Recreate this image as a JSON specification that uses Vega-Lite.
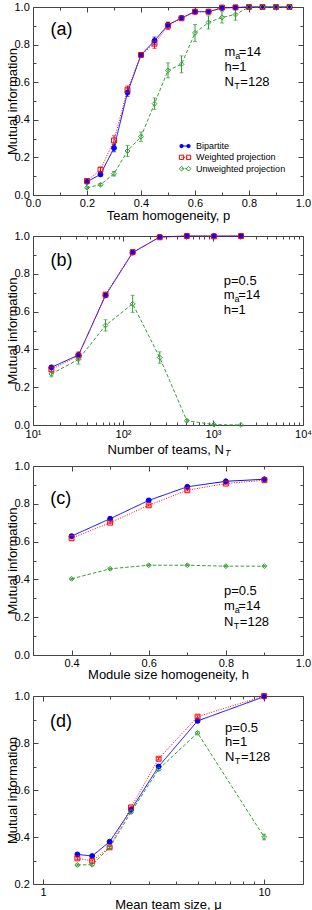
{
  "$schema": "https://vega.github.io/schema/vega-lite/v6.json",
  "padding": {"left": 5, "top": 0, "right": 0, "bottom": 0},
  "bounds": "flush",
  "spacing": 41,
  "config": {
    "font": "Liberation Sans",
    "view": {"stroke": "#444", "strokeWidth": 1},
    "axis": {"domain": false, "grid": false, "tickColor": "#444", "tickWidth": 1, "labelFontSize": 11, "labelColor": "#000", "titleFontSize": 13, "titleFontWeight": "normal", "titleColor": "#000", "labelFlush": false, "labelOverlap": false, "labelBound": false}
  },
  "resolve": {"scale": {"x": "independent", "y": "independent", "color": "independent", "shape": "independent", "fill": "independent", "strokeDash": "independent"}, "axis": {"x": "independent", "y": "independent"}},
  "datasets": {
    "a": [
      {"x": 0.2, "series": "Bipartite", "mi": 0.07, "err": 0.005},
      {"x": 0.25, "series": "Bipartite", "mi": 0.11, "err": 0.012},
      {"x": 0.3, "series": "Bipartite", "mi": 0.25, "err": 0.02},
      {"x": 0.35, "series": "Bipartite", "mi": 0.545, "err": 0.02},
      {"x": 0.4, "series": "Bipartite", "mi": 0.745, "err": 0.01},
      {"x": 0.45, "series": "Bipartite", "mi": 0.82, "err": 0.02},
      {"x": 0.5, "series": "Bipartite", "mi": 0.905, "err": 0.012},
      {"x": 0.55, "series": "Bipartite", "mi": 0.942, "err": 0.005},
      {"x": 0.6, "series": "Bipartite", "mi": 0.975, "err": 0.004},
      {"x": 0.65, "series": "Bipartite", "mi": 0.975, "err": 0.004},
      {"x": 0.7, "series": "Bipartite", "mi": 0.995, "err": 0.003},
      {"x": 0.75, "series": "Bipartite", "mi": 0.997, "err": 0.002},
      {"x": 0.8, "series": "Bipartite", "mi": 1.0, "err": 0},
      {"x": 0.85, "series": "Bipartite", "mi": 1.0, "err": 0},
      {"x": 0.9, "series": "Bipartite", "mi": 1.0, "err": 0},
      {"x": 0.95, "series": "Bipartite", "mi": 1.0, "err": 0},
      {"x": 0.2, "series": "Weighted projection", "mi": 0.075, "err": 0.005},
      {"x": 0.25, "series": "Weighted projection", "mi": 0.135, "err": 0.012},
      {"x": 0.3, "series": "Weighted projection", "mi": 0.29, "err": 0.025},
      {"x": 0.35, "series": "Weighted projection", "mi": 0.56, "err": 0.02},
      {"x": 0.4, "series": "Weighted projection", "mi": 0.745, "err": 0.012},
      {"x": 0.45, "series": "Weighted projection", "mi": 0.805, "err": 0.025},
      {"x": 0.5, "series": "Weighted projection", "mi": 0.9, "err": 0.02},
      {"x": 0.55, "series": "Weighted projection", "mi": 0.94, "err": 0.005},
      {"x": 0.6, "series": "Weighted projection", "mi": 0.975, "err": 0.004},
      {"x": 0.65, "series": "Weighted projection", "mi": 0.975, "err": 0.004},
      {"x": 0.7, "series": "Weighted projection", "mi": 0.997, "err": 0.003},
      {"x": 0.75, "series": "Weighted projection", "mi": 0.998, "err": 0.002},
      {"x": 0.8, "series": "Weighted projection", "mi": 1.0, "err": 0},
      {"x": 0.85, "series": "Weighted projection", "mi": 1.0, "err": 0},
      {"x": 0.9, "series": "Weighted projection", "mi": 1.0, "err": 0},
      {"x": 0.95, "series": "Weighted projection", "mi": 1.0, "err": 0},
      {"x": 0.2, "series": "Unweighted projection", "mi": 0.039, "err": 0.005},
      {"x": 0.25, "series": "Unweighted projection", "mi": 0.055, "err": 0.006},
      {"x": 0.3, "series": "Unweighted projection", "mi": 0.113, "err": 0.012},
      {"x": 0.35, "series": "Unweighted projection", "mi": 0.234, "err": 0.03},
      {"x": 0.4, "series": "Unweighted projection", "mi": 0.31, "err": 0.025},
      {"x": 0.45, "series": "Unweighted projection", "mi": 0.486, "err": 0.03},
      {"x": 0.5, "series": "Unweighted projection", "mi": 0.663, "err": 0.04},
      {"x": 0.55, "series": "Unweighted projection", "mi": 0.695, "err": 0.045},
      {"x": 0.6, "series": "Unweighted projection", "mi": 0.862, "err": 0.045},
      {"x": 0.65, "series": "Unweighted projection", "mi": 0.918, "err": 0.035},
      {"x": 0.7, "series": "Unweighted projection", "mi": 0.945, "err": 0.03},
      {"x": 0.75, "series": "Unweighted projection", "mi": 0.96, "err": 0.03},
      {"x": 0.8, "series": "Unweighted projection", "mi": 1.0, "err": 0},
      {"x": 0.85, "series": "Unweighted projection", "mi": 1.0, "err": 0},
      {"x": 0.9, "series": "Unweighted projection", "mi": 1.0, "err": 0},
      {"x": 0.95, "series": "Unweighted projection", "mi": 1.0, "err": 0}
    ],
    "b": [
      {"x": 16, "series": "Bipartite", "mi": 0.305, "err": 0.008},
      {"x": 32, "series": "Bipartite", "mi": 0.37, "err": 0.01},
      {"x": 64, "series": "Bipartite", "mi": 0.686, "err": 0.01},
      {"x": 128, "series": "Bipartite", "mi": 0.912, "err": 0.006},
      {"x": 256, "series": "Bipartite", "mi": 0.995, "err": 0.003},
      {"x": 512, "series": "Bipartite", "mi": 1.0, "err": 0},
      {"x": 1024, "series": "Bipartite", "mi": 1.0, "err": 0},
      {"x": 2048, "series": "Bipartite", "mi": 1.0, "err": 0},
      {"x": 16, "series": "Weighted projection", "mi": 0.294, "err": 0.01},
      {"x": 32, "series": "Weighted projection", "mi": 0.367, "err": 0.02},
      {"x": 64, "series": "Weighted projection", "mi": 0.69, "err": 0.01},
      {"x": 128, "series": "Weighted projection", "mi": 0.915, "err": 0.006},
      {"x": 256, "series": "Weighted projection", "mi": 0.993, "err": 0.003},
      {"x": 512, "series": "Weighted projection", "mi": 1.0, "err": 0},
      {"x": 1024, "series": "Weighted projection", "mi": 0.998, "err": 0.002},
      {"x": 2048, "series": "Weighted projection", "mi": 1.0, "err": 0},
      {"x": 16, "series": "Unweighted projection", "mi": 0.27, "err": 0.015},
      {"x": 32, "series": "Unweighted projection", "mi": 0.347, "err": 0.025},
      {"x": 64, "series": "Unweighted projection", "mi": 0.527, "err": 0.03},
      {"x": 128, "series": "Unweighted projection", "mi": 0.641, "err": 0.045},
      {"x": 256, "series": "Unweighted projection", "mi": 0.357, "err": 0.03},
      {"x": 512, "series": "Unweighted projection", "mi": 0.023, "err": 0.006},
      {"x": 1024, "series": "Unweighted projection", "mi": 0.002, "err": 0.002},
      {"x": 2048, "series": "Unweighted projection", "mi": 0.0, "err": 0}
    ],
    "c": [
      {"x": 0.4, "series": "Bipartite", "mi": 0.629, "err": 0.004},
      {"x": 0.5, "series": "Bipartite", "mi": 0.721, "err": 0.004},
      {"x": 0.6, "series": "Bipartite", "mi": 0.818, "err": 0.004},
      {"x": 0.7, "series": "Bipartite", "mi": 0.89, "err": 0.004},
      {"x": 0.8, "series": "Bipartite", "mi": 0.919, "err": 0.004},
      {"x": 0.9, "series": "Bipartite", "mi": 0.93, "err": 0.004},
      {"x": 0.4, "series": "Weighted projection", "mi": 0.618, "err": 0.004},
      {"x": 0.5, "series": "Weighted projection", "mi": 0.7, "err": 0.004},
      {"x": 0.6, "series": "Weighted projection", "mi": 0.792, "err": 0.004},
      {"x": 0.7, "series": "Weighted projection", "mi": 0.872, "err": 0.004},
      {"x": 0.8, "series": "Weighted projection", "mi": 0.907, "err": 0.004},
      {"x": 0.9, "series": "Weighted projection", "mi": 0.925, "err": 0.004},
      {"x": 0.4, "series": "Unweighted projection", "mi": 0.403, "err": 0.004},
      {"x": 0.5, "series": "Unweighted projection", "mi": 0.456, "err": 0.004},
      {"x": 0.6, "series": "Unweighted projection", "mi": 0.475, "err": 0.003},
      {"x": 0.7, "series": "Unweighted projection", "mi": 0.475, "err": 0.003},
      {"x": 0.8, "series": "Unweighted projection", "mi": 0.47, "err": 0.003},
      {"x": 0.9, "series": "Unweighted projection", "mi": 0.47, "err": 0.003}
    ],
    "d": [
      {"x": 1.4286, "series": "Bipartite", "mi": 0.326, "err": 0.005},
      {"x": 1.6667, "series": "Bipartite", "mi": 0.319, "err": 0.005},
      {"x": 2, "series": "Bipartite", "mi": 0.38, "err": 0.005},
      {"x": 2.5, "series": "Bipartite", "mi": 0.516, "err": 0.005},
      {"x": 3.3333, "series": "Bipartite", "mi": 0.7, "err": 0.005},
      {"x": 5, "series": "Bipartite", "mi": 0.894, "err": 0.005},
      {"x": 10, "series": "Bipartite", "mi": 0.997, "err": 0.005},
      {"x": 1.4286, "series": "Weighted projection", "mi": 0.309, "err": 0.005},
      {"x": 1.6667, "series": "Weighted projection", "mi": 0.298, "err": 0.005},
      {"x": 2, "series": "Weighted projection", "mi": 0.356, "err": 0.005},
      {"x": 2.5, "series": "Weighted projection", "mi": 0.526, "err": 0.005},
      {"x": 3.3333, "series": "Weighted projection", "mi": 0.733, "err": 0.005},
      {"x": 5, "series": "Weighted projection", "mi": 0.912, "err": 0.004},
      {"x": 10, "series": "Weighted projection", "mi": 1.0, "err": 0.003},
      {"x": 1.4286, "series": "Unweighted projection", "mi": 0.281, "err": 0.004},
      {"x": 1.6667, "series": "Unweighted projection", "mi": 0.282, "err": 0.004},
      {"x": 2, "series": "Unweighted projection", "mi": 0.355, "err": 0.005},
      {"x": 2.5, "series": "Unweighted projection", "mi": 0.506, "err": 0.005},
      {"x": 3.3333, "series": "Unweighted projection", "mi": 0.688, "err": 0.005},
      {"x": 5, "series": "Unweighted projection", "mi": 0.843, "err": 0.005},
      {"x": 10, "series": "Unweighted projection", "mi": 0.4, "err": 0.012}
    ]
  },
  "vconcat": [
    {
      "width": 270, "height": 188,
      "resolve": {"axis": {"x": "independent", "y": "independent"}},
      "layer": [
        {
          "data": {"name": "a"},
          "transform": [{"filter": "datum.err > 0"}],
          "mark": {"type": "errorbar", "ticks": {"size": 4}, "thickness": 1},
          "encoding": {
            "x": {"field": "x", "type": "quantitative", "scale": {"domain": [0, 1], "nice": false}, "axis": null},
            "y": {"field": "mi", "type": "quantitative", "scale": {"domain": [0, 1], "nice": false}, "axis": null},
            "yError": {"field": "err"},
            "color": {"field": "series", "type": "nominal", "scale": {"domain": ["Bipartite", "Weighted projection", "Unweighted projection"], "range": ["#0000ff", "#ff0000", "#33a033"]}, "legend": null}
          }
        },
        {
          "data": {"name": "a"},
          "mark": {"type": "line", "strokeWidth": 1},
          "encoding": {
            "x": {"field": "x", "type": "quantitative", "scale": {"domain": [0, 1], "nice": false},
              "axis": {"orient": "bottom", "values": [0, 0.1, 0.2, 0.3, 0.4, 0.5, 0.6, 0.7, 0.8, 0.9, 1],
                "tickSize": {"condition": {"test": "abs(datum.value*5-round(datum.value*5))<0.001", "value": -5}, "value": -3},
                "labelExpr": "abs(datum.value*5-round(datum.value*5))<0.001 ? format(datum.value, '.1f') : ''",
                "labelPadding": 7.3, "title": "Team homogeneity,  p", "titleX": 135, "titleY": 24, "titleBaseline": "alphabetic", "titleAlign": "center"}},
            "y": {"field": "mi", "type": "quantitative", "scale": {"domain": [0, 1], "nice": false},
              "axis": {"orient": "left", "values": [0, 0.1, 0.2, 0.3, 0.4, 0.5, 0.6, 0.7, 0.8, 0.9, 1],
                "tickSize": {"condition": {"test": "abs(datum.value*5-round(datum.value*5))<0.001", "value": -5}, "value": -3},
                "labelExpr": "abs(datum.value*5-round(datum.value*5))<0.001 ? format(datum.value, '.1f') : ''",
                "labelPadding": 8.7, "title": "Mutual information", "titleX": -17, "titleY": 94, "titleBaseline": "alphabetic", "titleAlign": "center"}},
            "color": {"field": "series", "type": "nominal", "scale": {"domain": ["Bipartite", "Weighted projection", "Unweighted projection"], "range": ["#0000ff", "#ff0000", "#33a033"]}, "legend": null},
            "strokeDash": {"field": "series", "type": "nominal", "scale": {"domain": ["Bipartite", "Weighted projection", "Unweighted projection"], "range": [[1, 0], [1, 1.5], [3.5, 2]]}, "legend": null}
          }
        },
        {
          "data": {"name": "a"},
          "mark": {"type": "point", "filled": false, "strokeWidth": 1, "size": 24, "opacity": 1},
          "encoding": {
            "x": {"field": "x", "type": "quantitative", "scale": {"domain": [0, 1], "nice": false},
              "axis": {"orient": "top", "values": [0, 0.1, 0.2, 0.3, 0.4, 0.5, 0.6, 0.7, 0.8, 0.9, 1],
                "tickSize": {"condition": {"test": "abs(datum.value*5-round(datum.value*5))<0.001", "value": -5}, "value": -3},
                "labels": false, "title": null}},
            "y": {"field": "mi", "type": "quantitative", "scale": {"domain": [0, 1], "nice": false},
              "axis": {"orient": "right", "values": [0, 0.1, 0.2, 0.3, 0.4, 0.5, 0.6, 0.7, 0.8, 0.9, 1],
                "tickSize": {"condition": {"test": "abs(datum.value*5-round(datum.value*5))<0.001", "value": -5}, "value": -3},
                "labels": false, "title": null}},
            "color": {"field": "series", "type": "nominal", "legend": null},
            "shape": {"field": "series", "type": "nominal", "scale": {"domain": ["Bipartite", "Weighted projection", "Unweighted projection"], "range": ["circle", "square", "diamond"]}, "legend": null},
            "fill": {"field": "series", "type": "nominal", "scale": {"domain": ["Bipartite", "Weighted projection", "Unweighted projection"], "range": ["#0000ff", "transparent", "transparent"]}, "legend": null}
          }
        },
        {
          "data": {"values": [{}]},
          "mark": {"type": "rule", "color": "#0000ff", "strokeWidth": 1},
          "encoding": {"x": {"datum": 0.55, "type": "quantitative", "axis": null}, "x2": {"datum": 0.576}, "y": {"datum": 0.2606, "type": "quantitative", "axis": null}}
        },
        {
          "data": {"values": [{}]},
          "mark": {"type": "rule", "color": "#ff0000", "strokeWidth": 1, "strokeDash": [1, 1.5]},
          "encoding": {"x": {"datum": 0.55, "type": "quantitative", "axis": null}, "x2": {"datum": 0.576}, "y": {"datum": 0.2005, "type": "quantitative", "axis": null}}
        },
        {
          "data": {"values": [{}]},
          "mark": {"type": "rule", "color": "#33a033", "strokeWidth": 1, "strokeDash": [2, 1.5]},
          "encoding": {"x": {"datum": 0.55, "type": "quantitative", "axis": null}, "x2": {"datum": 0.576}, "y": {"datum": 0.1399, "type": "quantitative", "axis": null}}
        },
        {
          "data": {"values": [{}]},
          "mark": {"type": "point", "shape": "circle", "filled": true, "color": "#0000ff", "size": 18, "opacity": 1},
          "encoding": {"x": {"datum": 0.55, "type": "quantitative", "axis": null}, "y": {"datum": 0.2606, "type": "quantitative", "axis": null}}
        },
        {
          "data": {"values": [{}]},
          "mark": {"type": "point", "shape": "circle", "filled": true, "color": "#0000ff", "size": 18, "opacity": 1},
          "encoding": {"x": {"datum": 0.576, "type": "quantitative", "axis": null}, "y": {"datum": 0.2606, "type": "quantitative", "axis": null}}
        },
        {
          "data": {"values": [{}]},
          "mark": {"type": "point", "shape": "square", "filled": false, "color": "#ff0000", "size": 18, "strokeWidth": 1, "opacity": 1},
          "encoding": {"x": {"datum": 0.55, "type": "quantitative", "axis": null}, "y": {"datum": 0.2005, "type": "quantitative", "axis": null}}
        },
        {
          "data": {"values": [{}]},
          "mark": {"type": "point", "shape": "square", "filled": false, "color": "#ff0000", "size": 18, "strokeWidth": 1, "opacity": 1},
          "encoding": {"x": {"datum": 0.576, "type": "quantitative", "axis": null}, "y": {"datum": 0.2005, "type": "quantitative", "axis": null}}
        },
        {
          "data": {"values": [{}]},
          "mark": {"type": "point", "shape": "diamond", "filled": false, "color": "#33a033", "size": 22, "strokeWidth": 1, "opacity": 1},
          "encoding": {"x": {"datum": 0.55, "type": "quantitative", "axis": null}, "y": {"datum": 0.1399, "type": "quantitative", "axis": null}}
        },
        {
          "data": {"values": [{}]},
          "mark": {"type": "point", "shape": "diamond", "filled": false, "color": "#33a033", "size": 22, "strokeWidth": 1, "opacity": 1},
          "encoding": {"x": {"datum": 0.576, "type": "quantitative", "axis": null}, "y": {"datum": 0.1399, "type": "quantitative", "axis": null}}
        },
        {
          "data": {"values": [{}]},
          "mark": {"type": "text", "fontSize": 9, "align": "left", "baseline": "middle", "lineHeight": 11.3, "color": "#000"},
          "encoding": {"x": {"datum": 0.604, "type": "quantitative", "axis": null}, "y": {"datum": 0.2606, "type": "quantitative", "axis": null}, "text": {"value": ["Bipartite", "Weighted projection", "Unweighted projection"]}}
        },
        {
          "data": {"values": [{}]},
          "mark": {"type": "text", "fontSize": 18, "align": "center", "baseline": "middle", "color": "#000"},
          "encoding": {"x": {"datum": 0.106, "type": "quantitative", "axis": null}, "y": {"datum": 0.876, "type": "quantitative", "axis": null}, "text": {"value": "(a)"}}
        },
        {
          "data": {"values": [{}]},
          "mark": {"type": "text", "fontSize": 13, "align": "left", "baseline": "alphabetic", "lineHeight": 15, "color": "#000"},
          "encoding": {"x": {"datum": 0.709, "type": "quantitative", "axis": null}, "y": {"datum": 0.739, "type": "quantitative", "axis": null}, "text": {"value": ["m =14", "h=1", "N\u2002=128"]}}
        },
        {
          "data": {"values": [{}]},
          "mark": {"type": "text", "fontSize": 9, "align": "left", "baseline": "alphabetic", "dx": 10.8, "dy": 3, "color": "#000"},
          "encoding": {"x": {"datum": 0.709, "type": "quantitative", "axis": null}, "y": {"datum": 0.739, "type": "quantitative", "axis": null}, "text": {"value": "a"}}
        },
        {
          "data": {"values": [{}]},
          "mark": {"type": "text", "fontSize": 9, "align": "left", "baseline": "alphabetic", "dx": 9.7, "dy": 33, "color": "#000"},
          "encoding": {"x": {"datum": 0.709, "type": "quantitative", "axis": null}, "y": {"datum": 0.739, "type": "quantitative", "axis": null}, "text": {"value": "T"}}
        }
      ]
    },
    {
      "width": 270, "height": 189,
      "resolve": {"axis": {"x": "independent", "y": "independent"}},
      "layer": [
        {
          "data": {"name": "b"},
          "transform": [{"filter": "datum.err > 0"}],
          "mark": {"type": "errorbar", "ticks": {"size": 4}, "thickness": 1},
          "encoding": {
            "x": {"field": "x", "type": "quantitative", "scale": {"type": "log", "domain": [10, 10000], "nice": false}, "axis": null},
            "y": {"field": "mi", "type": "quantitative", "scale": {"domain": [0, 1], "nice": false}, "axis": null},
            "yError": {"field": "err"},
            "color": {"field": "series", "type": "nominal", "scale": {"domain": ["Bipartite", "Weighted projection", "Unweighted projection"], "range": ["#0000ff", "#ff0000", "#33a033"]}, "legend": null}
          }
        },
        {
          "data": {"name": "b"},
          "mark": {"type": "line", "strokeWidth": 1},
          "encoding": {
            "x": {"field": "x", "type": "quantitative", "scale": {"type": "log", "domain": [10, 10000], "nice": false},
              "axis": {"orient": "bottom", "values": [10, 20, 30, 40, 50, 60, 70, 80, 90, 100, 200, 300, 400, 500, 600, 700, 800, 900, 1000, 2000, 3000, 4000, 5000, 6000, 7000, 8000, 9000, 10000],
                "tickSize": {"condition": {"test": "abs(log(datum.value)/LN10-round(log(datum.value)/LN10))<0.001", "value": -5}, "value": -3},
                "labelExpr": "abs(log(datum.value)/LN10-round(log(datum.value)/LN10))<0.001 ? '10' + ['\u2070','\u00b9','\u00b2','\u00b3','\u2074'][round(log(datum.value)/LN10)] : ''",
                "labelPadding": 8.3, "title": "Number of teams, N", "titleX": 132.2, "titleY": 28.3, "titleBaseline": "alphabetic", "titleAlign": "center"}},
            "y": {"field": "mi", "type": "quantitative", "scale": {"domain": [0, 1], "nice": false},
              "axis": {"orient": "left", "values": [0, 0.1, 0.2, 0.3, 0.4, 0.5, 0.6, 0.7, 0.8, 0.9, 1],
                "tickSize": {"condition": {"test": "abs(datum.value*5-round(datum.value*5))<0.001", "value": -5}, "value": -3},
                "labelExpr": "abs(datum.value*5-round(datum.value*5))<0.001 ? format(datum.value, '.1f') : ''",
                "labelPadding": 8.7, "title": "Mutual information", "titleX": -17, "titleY": 94.5, "titleBaseline": "alphabetic", "titleAlign": "center"}},
            "color": {"field": "series", "type": "nominal", "scale": {"domain": ["Bipartite", "Weighted projection", "Unweighted projection"], "range": ["#0000ff", "#ff0000", "#33a033"]}, "legend": null},
            "strokeDash": {"field": "series", "type": "nominal", "scale": {"domain": ["Bipartite", "Weighted projection", "Unweighted projection"], "range": [[1, 0], [1, 1.5], [3.5, 2]]}, "legend": null}
          }
        },
        {
          "data": {"name": "b"},
          "mark": {"type": "point", "filled": false, "strokeWidth": 1, "size": 24, "opacity": 1},
          "encoding": {
            "x": {"field": "x", "type": "quantitative", "scale": {"type": "log", "domain": [10, 10000], "nice": false},
              "axis": {"orient": "top", "values": [10, 20, 30, 40, 50, 60, 70, 80, 90, 100, 200, 300, 400, 500, 600, 700, 800, 900, 1000, 2000, 3000, 4000, 5000, 6000, 7000, 8000, 9000, 10000],
                "tickSize": {"condition": {"test": "abs(log(datum.value)/LN10-round(log(datum.value)/LN10))<0.001", "value": -5}, "value": -3},
                "labels": false, "title": null}},
            "y": {"field": "mi", "type": "quantitative", "scale": {"domain": [0, 1], "nice": false},
              "axis": {"orient": "right", "values": [0, 0.1, 0.2, 0.3, 0.4, 0.5, 0.6, 0.7, 0.8, 0.9, 1],
                "tickSize": {"condition": {"test": "abs(datum.value*5-round(datum.value*5))<0.001", "value": -5}, "value": -3},
                "labels": false, "title": null}},
            "color": {"field": "series", "type": "nominal", "legend": null},
            "shape": {"field": "series", "type": "nominal", "scale": {"domain": ["Bipartite", "Weighted projection", "Unweighted projection"], "range": ["circle", "square", "diamond"]}, "legend": null},
            "fill": {"field": "series", "type": "nominal", "scale": {"domain": ["Bipartite", "Weighted projection", "Unweighted projection"], "range": ["#0000ff", "transparent", "transparent"]}, "legend": null}
          }
        },
        {
          "data": {"values": [{}]},
          "mark": {"type": "text", "fontSize": 18, "align": "center", "baseline": "middle", "color": "#000"},
          "encoding": {"x": {"datum": 20.7, "type": "quantitative", "scale": {"type": "log"}, "axis": null}, "y": {"datum": 0.868, "type": "quantitative", "axis": null}, "text": {"value": "(b)"}}
        },
        {
          "data": {"values": [{}]},
          "mark": {"type": "text", "fontSize": 13, "align": "left", "baseline": "alphabetic", "lineHeight": 14.5, "color": "#000"},
          "encoding": {"x": {"datum": 1316, "type": "quantitative", "scale": {"type": "log"}, "axis": null}, "y": {"datum": 0.742, "type": "quantitative", "axis": null}, "text": {"value": ["p=0.5", "m =14", "h=1"]}}
        },
        {
          "data": {"values": [{}]},
          "mark": {"type": "text", "fontSize": 9, "align": "left", "baseline": "alphabetic", "dx": 10.8, "dy": 17.5, "color": "#000"},
          "encoding": {"x": {"datum": 1316, "type": "quantitative", "scale": {"type": "log"}, "axis": null}, "y": {"datum": 0.742, "type": "quantitative", "axis": null}, "text": {"value": "a"}}
        },
        {
          "data": {"values": [{}]},
          "mark": {"type": "text", "fontSize": 9, "fontStyle": "italic", "align": "left", "baseline": "alphabetic", "color": "#000"},
          "encoding": {"x": {"datum": 1360, "type": "quantitative", "scale": {"type": "log"}, "axis": null}, "y": {"datum": -0.166, "type": "quantitative", "axis": null}, "text": {"value": "T"}}
        }
      ]
    },
    {
      "width": 270, "height": 189,
      "resolve": {"axis": {"x": "independent", "y": "independent"}},
      "layer": [
        {
          "data": {"name": "c"},
          "transform": [{"filter": "datum.err > 0"}],
          "mark": {"type": "errorbar", "ticks": {"size": 4}, "thickness": 1},
          "encoding": {
            "x": {"field": "x", "type": "quantitative", "scale": {"domain": [0.3, 1], "nice": false}, "axis": null},
            "y": {"field": "mi", "type": "quantitative", "scale": {"domain": [0, 1], "nice": false}, "axis": null},
            "yError": {"field": "err"},
            "color": {"field": "series", "type": "nominal", "scale": {"domain": ["Bipartite", "Weighted projection", "Unweighted projection"], "range": ["#0000ff", "#ff0000", "#33a033"]}, "legend": null}
          }
        },
        {
          "data": {"name": "c"},
          "mark": {"type": "line", "strokeWidth": 1},
          "encoding": {
            "x": {"field": "x", "type": "quantitative", "scale": {"domain": [0.3, 1], "nice": false},
              "axis": {"orient": "bottom", "values": [0.3, 0.4, 0.5, 0.6, 0.7, 0.8, 0.9, 1],
                "tickSize": {"condition": {"test": "abs(datum.value*5-round(datum.value*5))<0.001", "value": -5}, "value": -3},
                "labelExpr": "abs(datum.value*5-round(datum.value*5))<0.001 ? format(datum.value, '.1f') : ''",
                "labelPadding": 7.3, "title": "Module size homogeneity,  h", "titleX": 135, "titleY": 23.5, "titleBaseline": "alphabetic", "titleAlign": "center"}},
            "y": {"field": "mi", "type": "quantitative", "scale": {"domain": [0, 1], "nice": false},
              "axis": {"orient": "left", "values": [0, 0.1, 0.2, 0.3, 0.4, 0.5, 0.6, 0.7, 0.8, 0.9, 1],
                "tickSize": {"condition": {"test": "abs(datum.value*5-round(datum.value*5))<0.001", "value": -5}, "value": -3},
                "labelExpr": "abs(datum.value*5-round(datum.value*5))<0.001 ? format(datum.value, '.1f') : ''",
                "labelPadding": 8.7, "title": "Mutual information", "titleX": -17, "titleY": 94.5, "titleBaseline": "alphabetic", "titleAlign": "center"}},
            "color": {"field": "series", "type": "nominal", "scale": {"domain": ["Bipartite", "Weighted projection", "Unweighted projection"], "range": ["#0000ff", "#ff0000", "#33a033"]}, "legend": null},
            "strokeDash": {"field": "series", "type": "nominal", "scale": {"domain": ["Bipartite", "Weighted projection", "Unweighted projection"], "range": [[1, 0], [1, 1.5], [3.5, 2]]}, "legend": null}
          }
        },
        {
          "data": {"name": "c"},
          "mark": {"type": "point", "filled": false, "strokeWidth": 1, "size": 24, "opacity": 1},
          "encoding": {
            "x": {"field": "x", "type": "quantitative", "scale": {"domain": [0.3, 1], "nice": false},
              "axis": {"orient": "top", "values": [0.3, 0.4, 0.5, 0.6, 0.7, 0.8, 0.9, 1],
                "tickSize": {"condition": {"test": "abs(datum.value*5-round(datum.value*5))<0.001", "value": -5}, "value": -3},
                "labels": false, "title": null}},
            "y": {"field": "mi", "type": "quantitative", "scale": {"domain": [0, 1], "nice": false},
              "axis": {"orient": "right", "values": [0, 0.1, 0.2, 0.3, 0.4, 0.5, 0.6, 0.7, 0.8, 0.9, 1],
                "tickSize": {"condition": {"test": "abs(datum.value*5-round(datum.value*5))<0.001", "value": -5}, "value": -3},
                "labels": false, "title": null}},
            "color": {"field": "series", "type": "nominal", "legend": null},
            "shape": {"field": "series", "type": "nominal", "scale": {"domain": ["Bipartite", "Weighted projection", "Unweighted projection"], "range": ["circle", "square", "diamond"]}, "legend": null},
            "fill": {"field": "series", "type": "nominal", "scale": {"domain": ["Bipartite", "Weighted projection", "Unweighted projection"], "range": ["#0000ff", "transparent", "transparent"]}, "legend": null}
          }
        },
        {
          "data": {"values": [{}]},
          "mark": {"type": "text", "fontSize": 18, "align": "center", "baseline": "middle", "color": "#000"},
          "encoding": {"x": {"datum": 0.372, "type": "quantitative", "axis": null}, "y": {"datum": 0.827, "type": "quantitative", "axis": null}, "text": {"value": "(c)"}}
        },
        {
          "data": {"values": [{}]},
          "mark": {"type": "text", "fontSize": 13, "align": "left", "baseline": "alphabetic", "lineHeight": 15.5, "color": "#000"},
          "encoding": {"x": {"datum": 0.795, "type": "quantitative", "axis": null}, "y": {"datum": 0.318, "type": "quantitative", "axis": null}, "text": {"value": ["p=0.5", "m =14", "N\u2002=128"]}}
        },
        {
          "data": {"values": [{}]},
          "mark": {"type": "text", "fontSize": 9, "align": "left", "baseline": "alphabetic", "dx": 10.8, "dy": 18.5, "color": "#000"},
          "encoding": {"x": {"datum": 0.795, "type": "quantitative", "axis": null}, "y": {"datum": 0.318, "type": "quantitative", "axis": null}, "text": {"value": "a"}}
        },
        {
          "data": {"values": [{}]},
          "mark": {"type": "text", "fontSize": 9, "align": "left", "baseline": "alphabetic", "dx": 9.7, "dy": 34, "color": "#000"},
          "encoding": {"x": {"datum": 0.795, "type": "quantitative", "axis": null}, "y": {"datum": 0.318, "type": "quantitative", "axis": null}, "text": {"value": "T"}}
        }
      ]
    },
    {
      "width": 270, "height": 188,
      "resolve": {"axis": {"x": "independent", "y": "independent"}},
      "layer": [
        {
          "data": {"name": "d"},
          "transform": [{"filter": "datum.err > 0"}],
          "mark": {"type": "errorbar", "ticks": {"size": 4}, "thickness": 1},
          "encoding": {
            "x": {"field": "x", "type": "quantitative", "scale": {"type": "log", "domain": [0.9, 15], "nice": false}, "axis": null},
            "y": {"field": "mi", "type": "quantitative", "scale": {"domain": [0.2, 1], "nice": false, "zero": false}, "axis": null},
            "yError": {"field": "err"},
            "color": {"field": "series", "type": "nominal", "scale": {"domain": ["Bipartite", "Weighted projection", "Unweighted projection"], "range": ["#0000ff", "#ff0000", "#33a033"]}, "legend": null}
          }
        },
        {
          "data": {"name": "d"},
          "mark": {"type": "line", "strokeWidth": 1},
          "encoding": {
            "x": {"field": "x", "type": "quantitative", "scale": {"type": "log", "domain": [0.9, 15], "nice": false},
              "axis": {"orient": "bottom", "values": [1, 2, 3, 4, 5, 6, 7, 8, 9, 10],
                "tickSize": {"condition": {"test": "datum.value == 1 || datum.value == 10", "value": -5}, "value": -3},
                "labelExpr": "datum.value == 1 || datum.value == 10 ? format(datum.value, 'd') : ''",
                "labelPadding": 7.3, "title": "Mean team size, \u03bc", "titleX": 135, "titleY": 24, "titleBaseline": "alphabetic", "titleAlign": "center"}},
            "y": {"field": "mi", "type": "quantitative", "scale": {"domain": [0.2, 1], "nice": false, "zero": false},
              "axis": {"orient": "left", "values": [0.2, 0.3, 0.4, 0.5, 0.6, 0.7, 0.8, 0.9, 1],
                "tickSize": {"condition": {"test": "abs(datum.value*5-round(datum.value*5))<0.001", "value": -5}, "value": -3},
                "labelExpr": "abs(datum.value*5-round(datum.value*5))<0.001 ? format(datum.value, '.1f') : ''",
                "labelPadding": 8.7, "title": "Mutual information", "titleX": -17, "titleY": 94, "titleBaseline": "alphabetic", "titleAlign": "center"}},
            "color": {"field": "series", "type": "nominal", "scale": {"domain": ["Bipartite", "Weighted projection", "Unweighted projection"], "range": ["#0000ff", "#ff0000", "#33a033"]}, "legend": null},
            "strokeDash": {"field": "series", "type": "nominal", "scale": {"domain": ["Bipartite", "Weighted projection", "Unweighted projection"], "range": [[1, 0], [1, 1.5], [3.5, 2]]}, "legend": null}
          }
        },
        {
          "data": {"name": "d"},
          "mark": {"type": "point", "filled": false, "strokeWidth": 1, "size": 24, "opacity": 1},
          "encoding": {
            "x": {"field": "x", "type": "quantitative", "scale": {"type": "log", "domain": [0.9, 15], "nice": false},
              "axis": {"orient": "top", "values": [1, 2, 3, 4, 5, 6, 7, 8, 9, 10],
                "tickSize": {"condition": {"test": "datum.value == 1 || datum.value == 10", "value": -5}, "value": -3},
                "labels": false, "title": null}},
            "y": {"field": "mi", "type": "quantitative", "scale": {"domain": [0.2, 1], "nice": false, "zero": false},
              "axis": {"orient": "right", "values": [0.2, 0.3, 0.4, 0.5, 0.6, 0.7, 0.8, 0.9, 1],
                "tickSize": {"condition": {"test": "abs(datum.value*5-round(datum.value*5))<0.001", "value": -5}, "value": -3},
                "labels": false, "title": null}},
            "color": {"field": "series", "type": "nominal", "legend": null},
            "shape": {"field": "series", "type": "nominal", "scale": {"domain": ["Bipartite", "Weighted projection", "Unweighted projection"], "range": ["circle", "square", "diamond"]}, "legend": null},
            "fill": {"field": "series", "type": "nominal", "scale": {"domain": ["Bipartite", "Weighted projection", "Unweighted projection"], "range": ["#0000ff", "transparent", "transparent"]}, "legend": null}
          }
        },
        {
          "data": {"values": [{}]},
          "mark": {"type": "text", "fontSize": 18, "align": "center", "baseline": "middle", "color": "#000"},
          "encoding": {"x": {"datum": 1.206, "type": "quantitative", "scale": {"type": "log"}, "axis": null}, "y": {"datum": 0.891, "type": "quantitative", "axis": null}, "text": {"value": "(d)"}}
        },
        {
          "data": {"values": [{}]},
          "mark": {"type": "text", "fontSize": 13, "align": "left", "baseline": "alphabetic", "lineHeight": 14.7, "color": "#000"},
          "encoding": {"x": {"datum": 6.66, "type": "quantitative", "scale": {"type": "log"}, "axis": null}, "y": {"datum": 0.848, "type": "quantitative", "axis": null}, "text": {"value": ["p=0.5", "h=1", "N\u2002=128"]}}
        },
        {
          "data": {"values": [{}]},
          "mark": {"type": "text", "fontSize": 9, "align": "left", "baseline": "alphabetic", "dx": 9.7, "dy": 32.4, "color": "#000"},
          "encoding": {"x": {"datum": 6.66, "type": "quantitative", "scale": {"type": "log"}, "axis": null}, "y": {"datum": 0.848, "type": "quantitative", "axis": null}, "text": {"value": "T"}}
        }
      ]
    }
  ]
}
